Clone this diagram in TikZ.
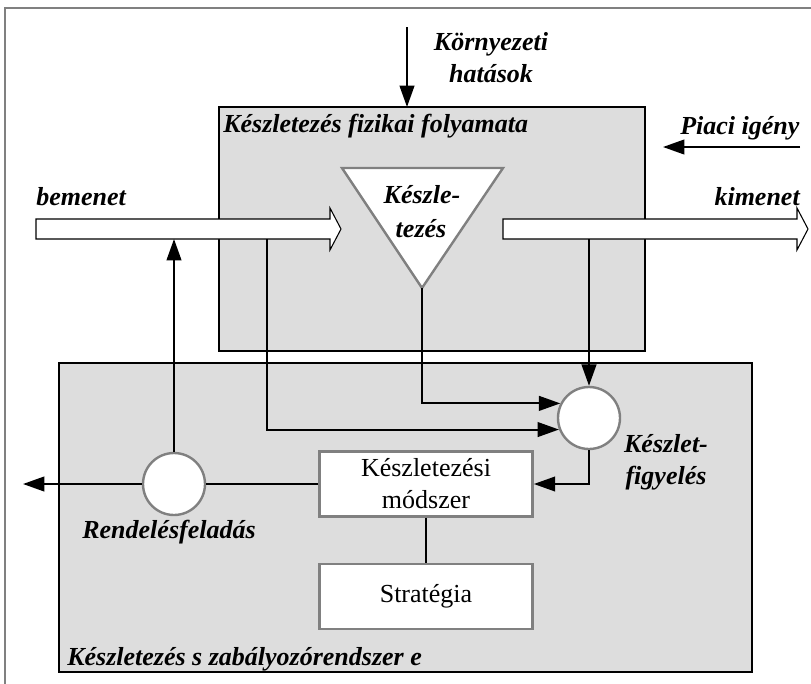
\documentclass[tikz,border=0pt]{standalone}
\usepackage{fontspec}
\setmainfont{Liberation Serif}
\usetikzlibrary{arrows.meta}
\definecolor{hatterszurke}{RGB}{221,221,221}
\definecolor{keretszurke}{RGB}{128,128,128}

\begin{document}
\begin{tikzpicture}[x=0.75pt,y=-0.75pt,
    font=\fontsize{19.5}{24}\selectfont,
    cimke/.style={font=\fontsize{19.5}{24}\selectfont\bfseries\itshape, inner sep=0pt},
    terulet/.style={draw=black, fill=hatterszurke, line width=1.1pt},
    ures/.style={draw=black, fill=white, line width=0.8pt},
    nyil/.style={line width=1.5pt, -{Triangle[length=16pt,width=11pt]}},
    vonal/.style={line width=1.5pt},
    kor/.style={circle, draw=keretszurke, fill=white, line width=1.8pt, minimum size=46.5pt, inner sep=0pt},
    doboz/.style={rectangle, draw=keretszurke, fill=white, line width=1.8pt, minimum width=160pt, minimum height=48.75pt, align=center, inner sep=0pt}]
  \useasboundingbox (0,0) rectangle (811,683);

  % Outer frame, cut by the page on the right and at the bottom
  \draw[keretszurke, line width=1.9pt] (5,8) rectangle (830,700);

  % The two shaded areas
  \draw[terulet] (219,107) rectangle (645,351);
  \draw[terulet] (59,363) rectangle (752,672);
  \node[cimke, anchor=base west] (fizikai) at (223,132) {Készletezés fizikai folyamata};
  \node[cimke, anchor=base west] (szabalyozo) at (67,665) {Készletezés s zabályozórendszer e};

  % Hollow flow arrows for input and output
  \draw[ures] (36,219) -- (330,219) -- (330,208) -- (341,229) -- (330,250) -- (330,239) -- (36,239) -- cycle;
  \draw[ures] (503,219) -- (797,219) -- (797,208) -- (808,229) -- (797,250) -- (797,239) -- (503,239) -- cycle;
  \node[cimke, anchor=base west] (bemenet) at (36,205) {bemenet};
  \node[cimke, anchor=base east] (kimenet) at (800,205) {kimenet};
  \coordinate (bemAlja) at (174,239);
  \coordinate (bemLeag) at (267,239);
  \coordinate (kimLeag) at (589,239);

  % Stock triangle
  \draw[draw=keretszurke, fill=white, line width=1.8pt] (342,168) -- (503,168) -- (422,288) -- cycle;
  \coordinate (csucs) at (422,288);
  \node[cimke, anchor=base] (keszle) at (422,203) {Készle-};
  \node[cimke, anchor=base] (tezes) at (421,237) {tezés};

  % Outside effects
  \coordinate (kornyFent) at (407,27);
  \coordinate (kornyLent) at (407,107);
  \draw[nyil] (kornyFent) -- (kornyLent);
  \node[cimke, align=center, anchor=base] (kornyezeti) at (491,82) {Környezeti\\hatások};
  \coordinate (piaciJobb) at (800,147);
  \coordinate (piaciBal) at (663,147);
  \draw[nyil] (piaciJobb) -- (piaciBal);
  \node[cimke, anchor=base west] (piaci) at (680,134) {Piaci igény};

  % Control loop
  \node[kor] (figyeles) at (589,418) {};
  \node[cimke, align=center, anchor=base] (figyCimke) at (666,484) {Készlet-\\figyelés};
  \node[kor] (rendeles) at (174,484) {};
  \node[cimke, anchor=base] (rendCimke) at (169,538) {Rendelésfeladás};
  \node[doboz] (modszer) at (426,484) {Készletezési\\módszer};
  \node[doboz] (strategia) at (426,596.5) {Stratégia};
  \coordinate (kiRendeles) at (23,484);

  \draw[nyil] (kimLeag) -- (figyeles.north);
  \draw[nyil] (csucs) |- (figyeles.153);
  \draw[nyil] (bemLeag) |- (figyeles.201);
  \draw[nyil] (figyeles.south) |- (modszer.east);
  \draw[vonal] (modszer.west) -- (rendeles.east);
  \draw[vonal] (modszer.south) -- (strategia.north);
  \draw[nyil] (rendeles.north) -- (bemAlja);
  \draw[nyil] (rendeles.west) -- (kiRendeles);
\end{tikzpicture}
\end{document}
